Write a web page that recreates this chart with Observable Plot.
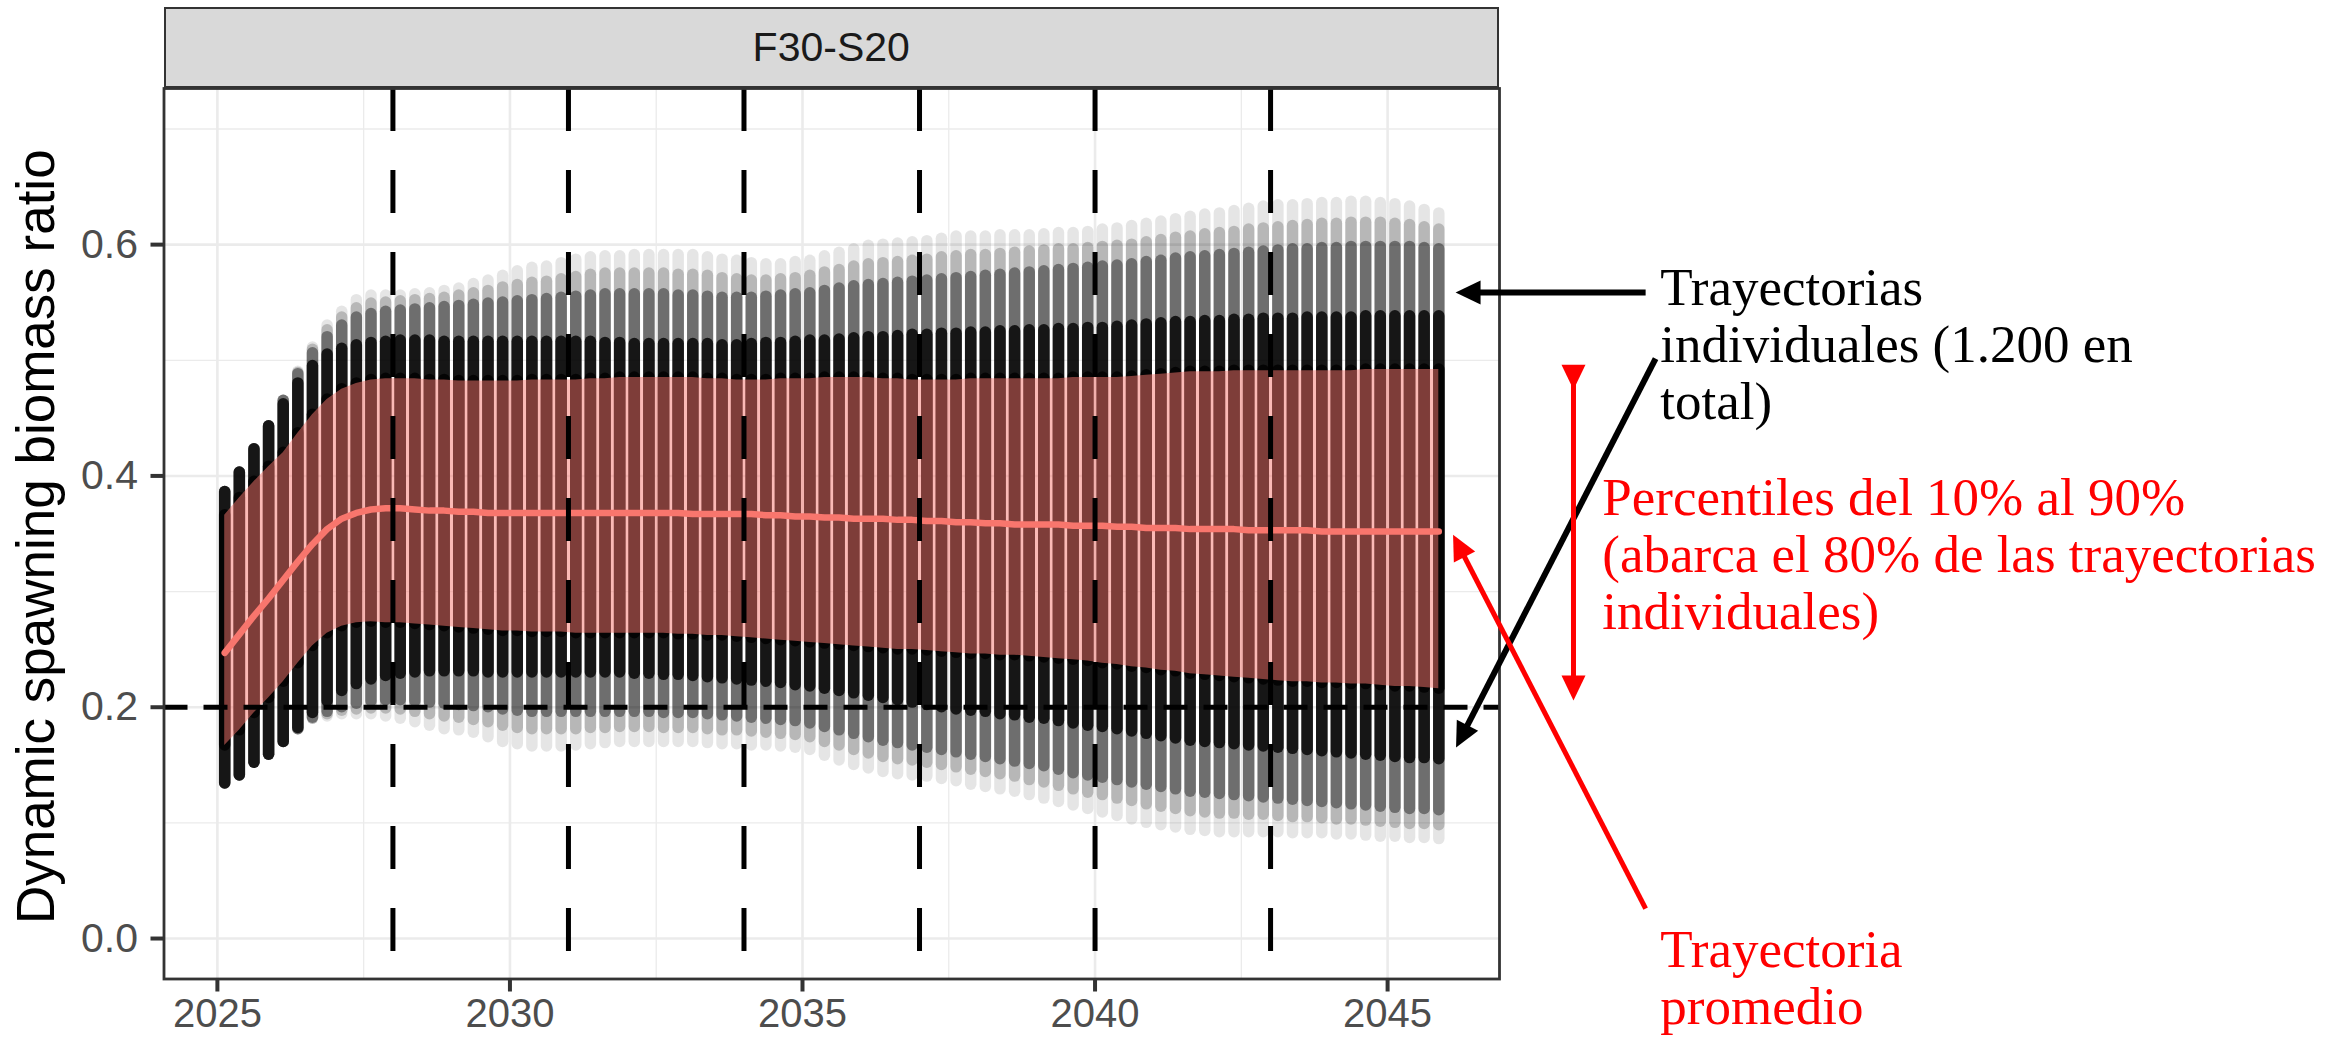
<!DOCTYPE html>
<html>
<head>
<meta charset="utf-8">
<script src="https://cdn.jsdelivr.net/npm/d3@7"></script>
<script src="https://cdn.jsdelivr.net/npm/@observablehq/plot@0.6"></script>
<style>
  html, body { margin: 0; padding: 0; background: #fff; }
  #wrap { position: relative; width: 2339px; height: 1037px; overflow: hidden;
          font-family: "Liberation Sans", Arial, sans-serif; }
  #wrap svg { position: absolute; left: 0; top: 0; }
  #strip { position: absolute; z-index: 2; left: 163.5px; top: 7px; width: 1335.5px; height: 81px;
           box-sizing: border-box; background: #D9D9D9; border: 2.6px solid #333;
           display: flex; align-items: center; justify-content: center;
           font-size: 41px; color: #1A1A1A; }
</style>
</head>
<body>
<div id="wrap"></div>
<script>
// Scenario shown in the facet strip
const scenario = "F30-S20";

// Quarterly projection time steps
const timeSteps = [
  2025.125, 2025.375, 2025.625, 2025.875,
  2026.125, 2026.375, 2026.625, 2026.875,
  2027.125, 2027.375, 2027.625, 2027.875,
  2028.125, 2028.375, 2028.625, 2028.875,
  2029.125, 2029.375, 2029.625, 2029.875,
  2030.125, 2030.375, 2030.625, 2030.875,
  2031.125, 2031.375, 2031.625, 2031.875,
  2032.125, 2032.375, 2032.625, 2032.875,
  2033.125, 2033.375, 2033.625, 2033.875,
  2034.125, 2034.375, 2034.625, 2034.875,
  2035.125, 2035.375, 2035.625, 2035.875,
  2036.125, 2036.375, 2036.625, 2036.875,
  2037.125, 2037.375, 2037.625, 2037.875,
  2038.125, 2038.375, 2038.625, 2038.875,
  2039.125, 2039.375, 2039.625, 2039.875,
  2040.125, 2040.375, 2040.625, 2040.875,
  2041.125, 2041.375, 2041.625, 2041.875,
  2042.125, 2042.375, 2042.625, 2042.875,
  2043.125, 2043.375, 2043.625, 2043.875,
  2044.125, 2044.375, 2044.625, 2044.875,
  2045.125, 2045.375, 2045.625, 2045.875
];

// Highest individual trajectory at each step
const trajMax = [
  0.386, 0.403, 0.423, 0.443,  0.465, 0.490, 0.511, 0.530,  0.542, 0.552, 0.556, 0.556,
  0.556, 0.557, 0.558, 0.560,  0.562, 0.566, 0.569, 0.573,  0.577, 0.580, 0.581, 0.584,
  0.587, 0.589, 0.590, 0.590,  0.591, 0.591, 0.591, 0.591,  0.591, 0.589, 0.587, 0.586,
  0.584, 0.583, 0.583, 0.585,  0.586, 0.590, 0.593, 0.596,  0.599, 0.600, 0.601, 0.602,
  0.603, 0.605, 0.607, 0.607,  0.607, 0.608, 0.608, 0.608,  0.609, 0.610, 0.610, 0.611,
  0.613, 0.614, 0.616, 0.618,  0.620, 0.622, 0.624, 0.626,  0.627, 0.629, 0.631, 0.633,
  0.634, 0.634, 0.635, 0.636,  0.636, 0.637, 0.637, 0.636,  0.635, 0.633, 0.630, 0.627
];

// Lowest individual trajectory at each step
const trajMin = [
  0.134, 0.141, 0.152, 0.159,  0.170, 0.181, 0.190, 0.192,  0.194, 0.194, 0.194, 0.192,
  0.190, 0.187, 0.184, 0.181,  0.180, 0.178, 0.174, 0.170,  0.168, 0.166, 0.166, 0.166,
  0.167, 0.168, 0.169, 0.170,  0.170, 0.170, 0.170, 0.170,  0.170, 0.169, 0.168, 0.168,
  0.167, 0.167, 0.166, 0.165,  0.163, 0.158, 0.154, 0.150,  0.147, 0.144, 0.142, 0.141,
  0.140, 0.138, 0.136, 0.133,  0.131, 0.129, 0.127, 0.124,  0.121, 0.118, 0.115, 0.112,
  0.109, 0.106, 0.103, 0.100,  0.098, 0.096, 0.094, 0.093,  0.092, 0.092, 0.092, 0.092,
  0.092, 0.091, 0.091, 0.091,  0.090, 0.090, 0.089, 0.088,  0.088, 0.087, 0.087, 0.086
];

// Outer fringe of the sparse trajectories (about 1% / 99%)
const fringeHi = [
  0.386, 0.403, 0.423, 0.443,  0.465, 0.489, 0.509, 0.526,  0.537, 0.545, 0.549, 0.550,
  0.551, 0.552, 0.553, 0.554,  0.556, 0.558, 0.560, 0.563,  0.565, 0.567, 0.568, 0.570,
  0.572, 0.574, 0.575, 0.575,  0.575, 0.575, 0.575, 0.574,  0.574, 0.573, 0.571, 0.570,
  0.569, 0.569, 0.570, 0.571,  0.573, 0.576, 0.578, 0.581,  0.583, 0.584, 0.585, 0.586,
  0.587, 0.589, 0.590, 0.591,  0.591, 0.592, 0.593, 0.594,  0.595, 0.596, 0.596, 0.597,
  0.598, 0.599, 0.600, 0.602,  0.604, 0.606, 0.607, 0.609,  0.610, 0.611, 0.613, 0.614,
  0.615, 0.616, 0.617, 0.618,  0.618, 0.619, 0.619, 0.619,  0.618, 0.617, 0.615, 0.613
];
const fringeLo = [
  0.134, 0.141, 0.152, 0.159,  0.170, 0.181, 0.190, 0.194,  0.197, 0.198, 0.199, 0.199,
  0.198, 0.196, 0.194, 0.192,  0.191, 0.189, 0.187, 0.184,  0.182, 0.181, 0.181, 0.181,
  0.181, 0.182, 0.182, 0.183,  0.183, 0.183, 0.182, 0.182,  0.182, 0.181, 0.180, 0.180,
  0.179, 0.178, 0.177, 0.176,  0.174, 0.170, 0.167, 0.163,  0.160, 0.157, 0.155, 0.154,
  0.152, 0.150, 0.148, 0.146,  0.144, 0.142, 0.140, 0.137,  0.135, 0.132, 0.129, 0.126,
  0.124, 0.121, 0.119, 0.116,  0.114, 0.112, 0.110, 0.109,  0.108, 0.108, 0.107, 0.107,
  0.106, 0.105, 0.105, 0.104,  0.103, 0.103, 0.102, 0.101,  0.100, 0.099, 0.099, 0.098
];

// Upper and lower edges of the loosely packed trajectories (about 2.5% / 97.5%)
const spreadHi = [
  0.386, 0.403, 0.423, 0.443,  0.465, 0.488, 0.506, 0.520,  0.530, 0.537, 0.540, 0.542,
  0.543, 0.544, 0.545, 0.546,  0.547, 0.548, 0.549, 0.550,  0.551, 0.552, 0.553, 0.554,
  0.555, 0.556, 0.557, 0.557,  0.557, 0.557, 0.557, 0.556,  0.556, 0.555, 0.554, 0.554,
  0.554, 0.555, 0.556, 0.557,  0.558, 0.560, 0.562, 0.564,  0.565, 0.566, 0.567, 0.568,
  0.569, 0.570, 0.571, 0.572,  0.573, 0.574, 0.575, 0.576,  0.577, 0.578, 0.579, 0.580,
  0.581, 0.582, 0.583, 0.585,  0.586, 0.588, 0.589, 0.590,  0.591, 0.592, 0.593, 0.594,
  0.595, 0.596, 0.596, 0.597,  0.597, 0.598, 0.598, 0.598,  0.598, 0.598, 0.597, 0.596
];
const spreadLo = [
  0.134, 0.141, 0.152, 0.159,  0.170, 0.181, 0.191, 0.196,  0.200, 0.203, 0.205, 0.206,
  0.206, 0.205, 0.204, 0.203,  0.202, 0.201, 0.200, 0.198,  0.197, 0.196, 0.196, 0.196,
  0.196, 0.196, 0.196, 0.196,  0.196, 0.196, 0.195, 0.195,  0.195, 0.194, 0.193, 0.192,
  0.191, 0.190, 0.189, 0.188,  0.186, 0.183, 0.180, 0.177,  0.174, 0.171, 0.169, 0.167,
  0.165, 0.163, 0.161, 0.159,  0.157, 0.155, 0.153, 0.151,  0.149, 0.146, 0.143, 0.141,
  0.139, 0.137, 0.135, 0.133,  0.131, 0.129, 0.127, 0.126,  0.125, 0.124, 0.123, 0.122,
  0.121, 0.120, 0.119, 0.118,  0.117, 0.116, 0.115, 0.114,  0.113, 0.112, 0.112, 0.111
];

// Upper and lower edges of the densely packed trajectories (about 5% / 95%)
const denseHi = [
  0.386, 0.403, 0.423, 0.443,  0.462, 0.480, 0.495, 0.505,  0.510, 0.513, 0.515, 0.516,
  0.517, 0.517, 0.517, 0.516,  0.516, 0.516, 0.516, 0.516,  0.516, 0.516, 0.516, 0.516,
  0.516, 0.516, 0.515, 0.515,  0.514, 0.514, 0.514, 0.514,  0.514, 0.514, 0.513, 0.513,
  0.514, 0.515, 0.515, 0.516,  0.517, 0.517, 0.518, 0.519,  0.520, 0.520, 0.521, 0.522,
  0.522, 0.523, 0.523, 0.524,  0.524, 0.525, 0.525, 0.526,  0.526, 0.527, 0.527, 0.528,
  0.528, 0.529, 0.530, 0.531,  0.532, 0.533, 0.533, 0.534,  0.534, 0.535, 0.535, 0.536,
  0.536, 0.536, 0.537, 0.537,  0.537, 0.537, 0.538, 0.538,  0.538, 0.538, 0.538, 0.538
];
const denseLo = [
  0.134, 0.141, 0.152, 0.159,  0.170, 0.182, 0.195, 0.205,  0.214, 0.220, 0.224, 0.227,
  0.229, 0.230, 0.231, 0.231,  0.231, 0.231, 0.230, 0.230,  0.230, 0.230, 0.230, 0.230,
  0.230, 0.230, 0.230, 0.230,  0.229, 0.229, 0.228, 0.228,  0.227, 0.226, 0.225, 0.224,
  0.223, 0.222, 0.221, 0.219,  0.218, 0.216, 0.214, 0.212,  0.210, 0.208, 0.206, 0.204,
  0.202, 0.200, 0.198, 0.197,  0.196, 0.194, 0.193, 0.191,  0.190, 0.188, 0.186, 0.184,
  0.183, 0.181, 0.179, 0.177,  0.175, 0.173, 0.171, 0.170,  0.169, 0.168, 0.167, 0.166,
  0.165, 0.164, 0.163, 0.162,  0.161, 0.160, 0.159, 0.158,  0.157, 0.156, 0.156, 0.155
];

// 90th percentile of the trajectories
const pct90 = [
  0.366, 0.381, 0.395, 0.408,  0.420, 0.437, 0.453, 0.466,  0.475, 0.480, 0.483, 0.484,
  0.484, 0.484, 0.483, 0.483,  0.482, 0.482, 0.482, 0.482,  0.482, 0.483, 0.483, 0.483,
  0.483, 0.484, 0.484, 0.485,  0.485, 0.485, 0.485, 0.485,  0.485, 0.484, 0.484, 0.483,
  0.483, 0.483, 0.484, 0.484,  0.484, 0.485, 0.485, 0.485,  0.485, 0.484, 0.484, 0.483,
  0.483, 0.483, 0.483, 0.484,  0.484, 0.484, 0.484, 0.484,  0.484, 0.484, 0.485, 0.485,
  0.485, 0.485, 0.486, 0.487,  0.488, 0.489, 0.490, 0.490,  0.490, 0.491, 0.491, 0.491,
  0.491, 0.491, 0.491, 0.491,  0.491, 0.491, 0.492, 0.492,  0.492, 0.492, 0.492, 0.492
];

// Mean trajectory
const meanTraj = [
  0.247, 0.263, 0.279, 0.294,  0.310, 0.326, 0.341, 0.354,  0.363, 0.368, 0.371, 0.372,
  0.372, 0.371, 0.370, 0.370,  0.369, 0.369, 0.368, 0.368,  0.368, 0.368, 0.368, 0.368,
  0.368, 0.368, 0.368, 0.368,  0.368, 0.368, 0.368, 0.368,  0.367, 0.367, 0.367, 0.367,
  0.367, 0.366, 0.366, 0.365,  0.365, 0.364, 0.364, 0.363,  0.363, 0.363, 0.362, 0.362,
  0.361, 0.361, 0.360, 0.360,  0.359, 0.359, 0.358, 0.358,  0.358, 0.358, 0.357, 0.357,
  0.357, 0.356, 0.356, 0.355,  0.355, 0.355, 0.354, 0.354,  0.354, 0.354, 0.353, 0.353,
  0.353, 0.353, 0.353, 0.352,  0.352, 0.352, 0.352, 0.352,  0.352, 0.352, 0.352, 0.352
];

// 10th percentile of the trajectories
const pct10 = [
  0.167, 0.180, 0.195, 0.208,  0.222, 0.238, 0.253, 0.264,  0.270, 0.273, 0.274, 0.273,
  0.273, 0.272, 0.271, 0.270,  0.269, 0.268, 0.267, 0.266,  0.266, 0.265, 0.265, 0.265,
  0.264, 0.264, 0.264, 0.264,  0.264, 0.264, 0.264, 0.263,  0.263, 0.262, 0.262, 0.261,
  0.260, 0.259, 0.258, 0.257,  0.256, 0.255, 0.254, 0.253,  0.252, 0.251, 0.250, 0.250,
  0.249, 0.248, 0.247, 0.246,  0.246, 0.245, 0.245, 0.244,  0.243, 0.242, 0.241, 0.240,
  0.238, 0.237, 0.235, 0.234,  0.232, 0.231, 0.229, 0.228,  0.227, 0.226, 0.225, 0.224,
  0.223, 0.222, 0.222, 0.221,  0.221, 0.220, 0.220, 0.219,  0.218, 0.218, 0.217, 0.216
];

// Management reference points
const reviewYears = [2028, 2031, 2034, 2037, 2040, 2043];
const limitRatio = [0.2];

// Axis ticks and grid
const xTicks = [2025, 2030, 2035, 2040, 2045];
const xMinor = [2027.5, 2032.5, 2037.5, 2042.5];
const yTicks = [0, 0.2, 0.4, 0.6];
const yMinor = [0.1, 0.3, 0.5, 0.7];
const yTitle = "Dynamic spawning biomass ratio";

// Annotation texts
const noteTrajectories = "Trayectorias\nindividuales (1.200 en\ntotal)";
const notePercentiles = "Percentiles del 10% al 90%\n(abarca el 80% de las trayectorias\nindividuales)";
const noteMean = "Trayectoria\npromedio";

// ---------------------------------------------------------------
const cloud = timeSteps.map((t, i) => ({
  t,
  max: trajMax[i], min: trajMin[i],
  fringeHi: fringeHi[i], fringeLo: fringeLo[i],
  spreadHi: spreadHi[i], spreadLo: spreadLo[i],
  denseHi: denseHi[i], denseLo: denseLo[i],
  p90: pct90[i], p10: pct10[i], mean: meanTraj[i]
}));

// annotation placement, in chart units (year, ratio)
const blackTexts = [{x: 2049.66, y: 0.4496, label: noteTrajectories}];
const redTexts = [
  {x: 2048.67, y: 0.2680, label: notePercentiles},
  {x: 2049.66, y: -0.0735, label: noteMean}
];
const blackArrows = [
  {x1: 2049.41, y1: 0.5585, x2: 2046.35, y2: 0.5585},
  {x1: 2049.58, y1: 0.5014, x2: 2046.256, y2: 0.1737}
];
const redArrows = [{x1: 2049.41, y1: 0.0259, x2: 2046.205, y2: 0.3407}];
const redRange = [{x1: 2048.177, y1: 0.4841, x2: 2048.177, y2: 0.2153}];

const colW = 11.5;
const salmon = "#F8766D";
const grid = "#EBEBEB";

// one translucent layer of point columns between two quantile edges
const pointLayer = (lo, hi, opacity) => Plot.ruleX(cloud, {
  x: "t", y1: lo, y2: hi, stroke: "#000", strokeOpacity: opacity,
  strokeWidth: colW, strokeLinecap: "round"
});

const chart = Plot.plot({
  width: 2339,
  height: 1037,
  marginLeft: 163.5,
  marginRight: 840,
  marginTop: 88,
  marginBottom: 58.5,
  style: {fontFamily: "'Liberation Sans', Arial, sans-serif", background: "transparent"},
  x: {domain: [2024.0875, 2046.9125]},
  y: {domain: [-0.035, 0.735]},
  marks: [
    // panel grid
    Plot.ruleX(xMinor, {stroke: grid, strokeWidth: 1.3}),
    Plot.ruleY(yMinor, {stroke: grid, strokeWidth: 1.3}),
    Plot.ruleX(xTicks, {stroke: grid, strokeWidth: 2.6}),
    Plot.ruleY(yTicks, {stroke: grid, strokeWidth: 2.6}),

    // individual trajectories, stacked as translucent point columns
    pointLayer("min", "max", 0.10),
    pointLayer("fringeLo", "fringeHi", 0.20),
    pointLayer("spreadLo", "spreadHi", 0.40),
    pointLayer("denseLo", "denseHi", 0.80),
    pointLayer("p10", "p90", 0.80),

    // 10%–90% band and mean trajectory
    Plot.areaY(cloud, {x: "t", y1: "p10", y2: "p90", fill: salmon, fillOpacity: 0.5}),
    Plot.lineY(cloud, {x: "t", y: "mean", stroke: salmon, strokeWidth: 6.5}),

    // reference lines
    Plot.ruleX(reviewYears, {stroke: "#000", strokeWidth: 5, strokeDasharray: "43,39"}),
    Plot.ruleY(limitRatio, {stroke: "#000", strokeWidth: 5, strokeDasharray: "24,16"}),

    Plot.frame({stroke: "#333", strokeWidth: 2.8}),

    // axes
    Plot.axisX({ticks: xTicks, tickFormat: d => String(d), label: null, fontSize: 40,
      tickSize: 13, tickPadding: 7, stroke: "#333", strokeWidth: 4, fill: "#4D4D4D"}),
    Plot.axisY({ticks: yTicks, tickFormat: d3.format(".1f"), label: null, fontSize: 41,
      tickSize: 13, tickPadding: 13, stroke: "#333", strokeWidth: 4, fill: "#4D4D4D"}),
    Plot.text([yTitle], {text: d => d, frameAnchor: "left", dx: -127, dy: 3, rotate: -90,
      textAnchor: "middle", fontSize: 53, fill: "#000"}),

    // annotations
    Plot.link(blackArrows, {x1: "x1", y1: "y1", x2: "x2", y2: "y2", stroke: "#000",
      strokeWidth: 6, markerEnd: "arrow"}),
    Plot.link(redArrows, {x1: "x1", y1: "y1", x2: "x2", y2: "y2", stroke: "#FF0000",
      strokeWidth: 5, markerEnd: "arrow"}),
    Plot.link(redRange, {x1: "x1", y1: "y1", x2: "x2", y2: "y2", stroke: "#FF0000",
      strokeWidth: 5, markerStart: "arrow", markerEnd: "arrow"}),
    Plot.text(blackTexts, {x: "x", y: "y", text: "label", fill: "#000", textAnchor: "start",
      lineAnchor: "bottom", lineHeight: 1.07, fontSize: 53, fontFamily: "'Liberation Serif', serif"}),
    Plot.text(redTexts, {x: "x", y: "y", text: "label", fill: "#FF0000", textAnchor: "start",
      lineAnchor: "bottom", lineHeight: 1.07, fontSize: 53, fontFamily: "'Liberation Serif', serif"})
  ]
});

// solid triangular arrowheads
const NS = "http://www.w3.org/2000/svg";
chart.querySelectorAll("marker").forEach(m => {
  let color = m.getAttribute("stroke");
  if (!color || color === "none") {
    const p0 = m.querySelector("path");
    color = (p0 && p0.getAttribute("stroke")) || "#000";
  }
  m.setAttribute("markerUnits", "userSpaceOnUse");
  m.setAttribute("viewBox", "-15 -13 27 26");
  m.setAttribute("markerWidth", 27);
  m.setAttribute("markerHeight", 26);
  m.setAttribute("fill", color);
  m.setAttribute("stroke", "none");
  while (m.firstChild) m.removeChild(m.firstChild);
  const p = document.createElementNS(NS, "path");
  p.setAttribute("d", "M-14,-12L11,0L-14,12Z");
  p.setAttribute("fill", color);
  m.appendChild(p);
});

const wrap = document.getElementById("wrap");
wrap.appendChild(chart);
const strip = document.createElement("div");
strip.id = "strip";
strip.textContent = scenario;
wrap.appendChild(strip);
</script>
</body>
</html>
